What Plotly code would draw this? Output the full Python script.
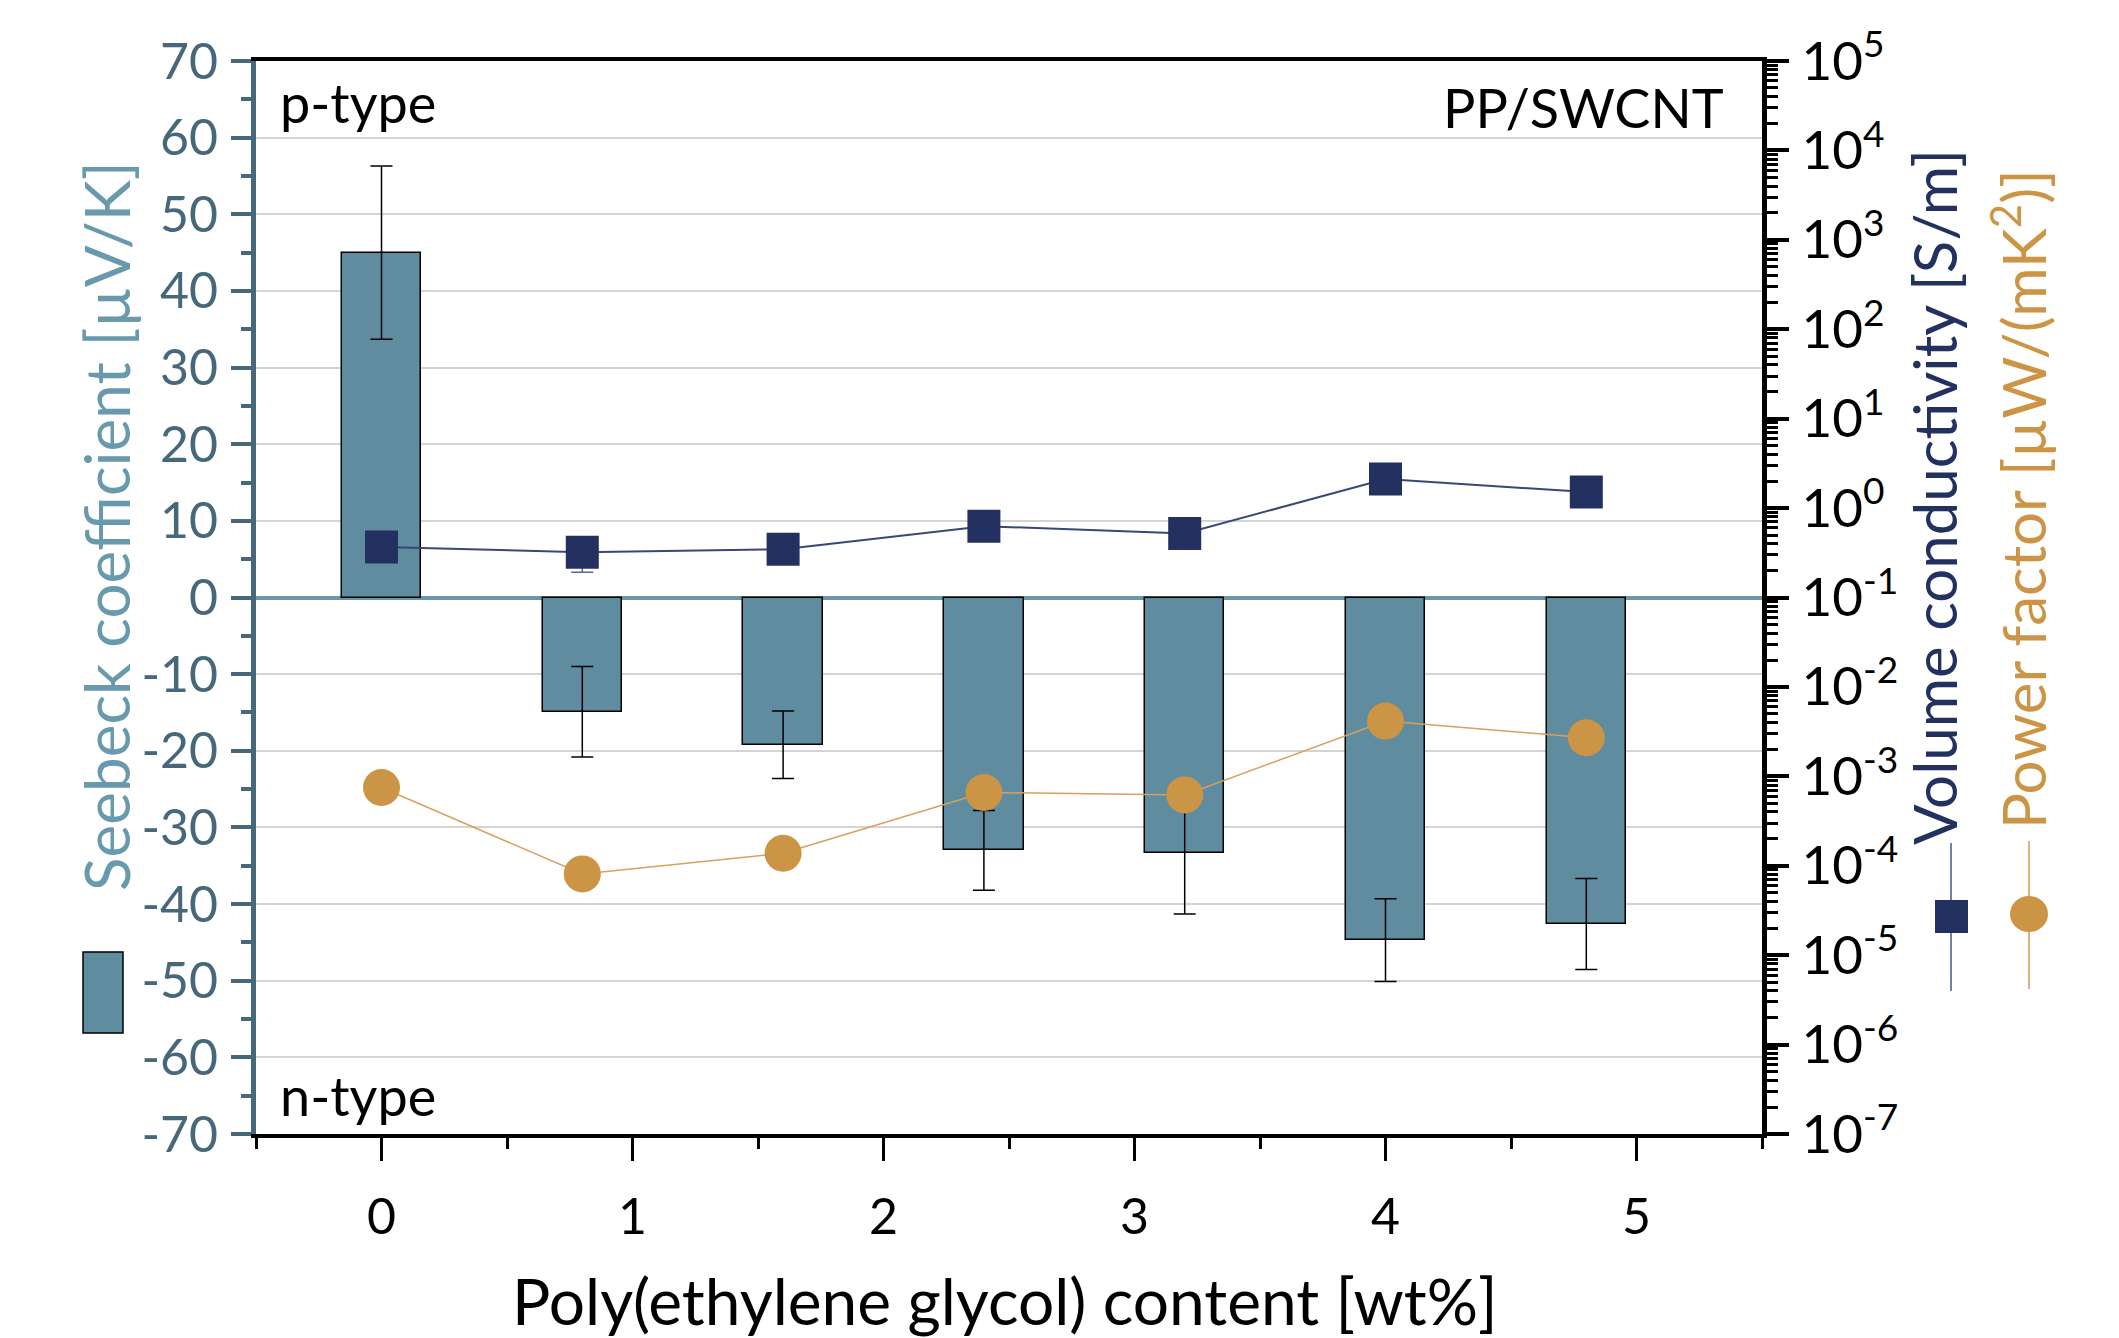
import plotly.graph_objects as go
import numpy as np

# ---------------- data ----------------
peg_content = [0.0, 0.8, 1.6, 2.4, 3.2, 4.0, 4.8]
seebeck = [45.0, -14.9, -19.2, -33.0, -33.4, -44.7, -42.6]
seebeck_err = [11.3, 5.9, 4.4, 5.2, 7.9, 5.4, 5.95]
conductivity = [0.368, 0.321, 0.347, 0.627, 0.52, 2.11, 1.51]
conductivity_err = [0.0, 0.13, 0.0, 0.0, 0.0, 0.0, 0.0]
power_factor = [7.5e-4, 8.1e-5, 1.38e-4, 6.6e-4, 6.2e-4, 4.15e-3, 2.7e-3]
x_ticks = [0, 1, 2, 3, 4, 5]
seebeck_ticks = list(range(-70, 71, 10))
log_decades = list(range(-7, 6))

# ---------------- style ----------------
W, H = 2119, 1338
L, R, T, B = 256, 1762, 61, 1134
FONT = "Lato"
BAR_COLOR = "#5F8C9F"
NAVY = "#22315F"
ORANGE = "#CC9445"
AX_LEFT = "#46687A"
TITLE_LEFT = "#6899AC"
TICK_FS = 50
TEXT_FS = 54


def px(x):
    return (x - L) / (R - L)


def py(y):
    return (B - y) / (B - T)


fig = go.Figure()

fig.add_trace(go.Bar(
    x=peg_content, y=seebeck, width=0.317,
    marker=dict(color=BAR_COLOR, line=dict(color="black", width=1.5)),
    error_y=dict(type="data", array=seebeck_err, visible=True,
                 color="black", thickness=1.5, width=11),
    showlegend=False, yaxis="y",
))

fig.add_trace(go.Scatter(
    x=peg_content, y=conductivity, mode="lines+markers", yaxis="y2",
    line=dict(color="#3A4774", width=2),
    marker=dict(symbol="square", size=33, color=NAVY),
    error_y=dict(type="data", array=conductivity_err, visible=True,
                 color="#5A6890", thickness=1.5, width=11),
    showlegend=False,
))

fig.add_trace(go.Scatter(
    x=peg_content, y=power_factor, mode="lines+markers", yaxis="y2",
    line=dict(color="#D6A15C", width=1.5),
    marker=dict(symbol="circle", size=37, color=ORANGE),
    showlegend=False,
))

minor_log = [m * 10.0 ** d for d in log_decades[:-1] for m in range(2, 10)]

fig.update_layout(
    width=W, height=H,
    margin=dict(l=L, r=W - R, t=T, b=H - B, pad=0),
    paper_bgcolor="white", plot_bgcolor="white",
    font=dict(family=FONT, size=TICK_FS, color="black"),
    bargap=0,
    xaxis=dict(
        range=[-0.5, 5.5], tickmode="array", tickvals=x_ticks,
        ticks="outside", ticklen=23, tickwidth=3, tickcolor="black",
        showline=True, linecolor="black", linewidth=4, mirror=True,
        showgrid=False, zeroline=False,
        tickfont=dict(size=TICK_FS, color="black"),
        ticklabelstandoff=13,
        minor=dict(dtick=0.5, tick0=0, ticks="outside", ticklen=11,
                   tickwidth=3, tickcolor="black"),
    ),
    yaxis=dict(
        range=[-70, 70], tickmode="array", tickvals=seebeck_ticks,
        ticktext=[str(v) for v in seebeck_ticks],
        ticks="outside", ticklen=20, tickwidth=4, tickcolor=AX_LEFT,
        showline=True, linecolor=AX_LEFT, linewidth=5,
        showgrid=True, gridcolor="#D4D4D4", gridwidth=2,
        zeroline=True, zerolinecolor="#6A97A9", zerolinewidth=4,
        tickfont=dict(size=TICK_FS, color=AX_LEFT),
        ticklabelstandoff=3,
        minor=dict(dtick=5, tick0=0, ticks="outside", ticklen=10,
                   tickwidth=4, tickcolor=AX_LEFT),
        layer="above traces",
    ),
    yaxis2=dict(
        type="log", range=[-7, 5], overlaying="y", side="right",
        tickmode="array", tickvals=[10.0 ** d for d in log_decades],
        ticktext=["10<sup>%d</sup>" % d for d in log_decades],
        ticks="outside", ticklen=22, tickwidth=4, tickcolor="black",
        showline=True, linecolor="black", linewidth=5,
        showgrid=False, zeroline=False,
        tickfont=dict(size=53, color="black"),
        ticklabelstandoff=2,
        minor=dict(tickmode="array", tickvals=minor_log, ticks="outside",
                   ticklen=11, tickwidth=3, tickcolor="black"),
    ),
)

ann = []
ann.append(dict(text="p-type", x=px(278), y=py(102), xanchor="left", yanchor="middle",
                font=dict(size=TEXT_FS, color="black")))
ann.append(dict(text="n-type", x=px(278), y=py(1095), xanchor="left", yanchor="middle",
                font=dict(size=TEXT_FS, color="black")))
ann.append(dict(text="PP/SWCNT", x=px(1726), y=py(107), xanchor="right", yanchor="middle",
                font=dict(size=TEXT_FS, color="black")))
ann.append(dict(text="Poly(ethylene glycol) content [wt%]", x=px(1005), y=py(1300),
                xanchor="center", yanchor="middle", font=dict(size=64, color="black")))
ann.append(dict(text="Seebeck coefficient [µV/K]", x=px(106), y=py(526), textangle=-90,
                xanchor="center", yanchor="middle", font=dict(size=62, color=TITLE_LEFT)))
ann.append(dict(text="Volume conductivity [S/m]", x=px(1934), y=py(497), textangle=-90,
                xanchor="center", yanchor="middle", font=dict(size=60, color=NAVY)))
ann.append(dict(text="Power factor [µW/(mK<sup>2</sup>)]", x=px(2020), y=py(499), textangle=-90,
                xanchor="center", yanchor="middle", font=dict(size=60, color=ORANGE)))
for a in ann:
    a.update(xref="paper", yref="paper", showarrow=False)
fig.update_layout(annotations=ann)

# legend-like key symbols (decorations)
shapes = [
    dict(type="rect", x0=px(83), x1=px(123), y0=py(1033), y1=py(952),
         fillcolor=BAR_COLOR, line=dict(color="black", width=1.5)),
    dict(type="line", x0=px(1951), x1=px(1951), y0=py(843), y1=py(991),
         line=dict(color="#7381A6", width=2)),
    dict(type="rect", x0=px(1935), x1=px(1968), y0=py(933), y1=py(900),
         fillcolor=NAVY, line=dict(width=0)),
    dict(type="line", x0=px(2029), x1=px(2029), y0=py(841), y1=py(989),
         line=dict(color="#DDB27A", width=2)),
    dict(type="circle", x0=px(2010), x1=px(2048), y0=py(932), y1=py(896),
         fillcolor=ORANGE, line=dict(width=0)),
]
for s in shapes:
    s.update(xref="paper", yref="paper")
fig.update_layout(shapes=shapes)

fig.write_html("out.html")
